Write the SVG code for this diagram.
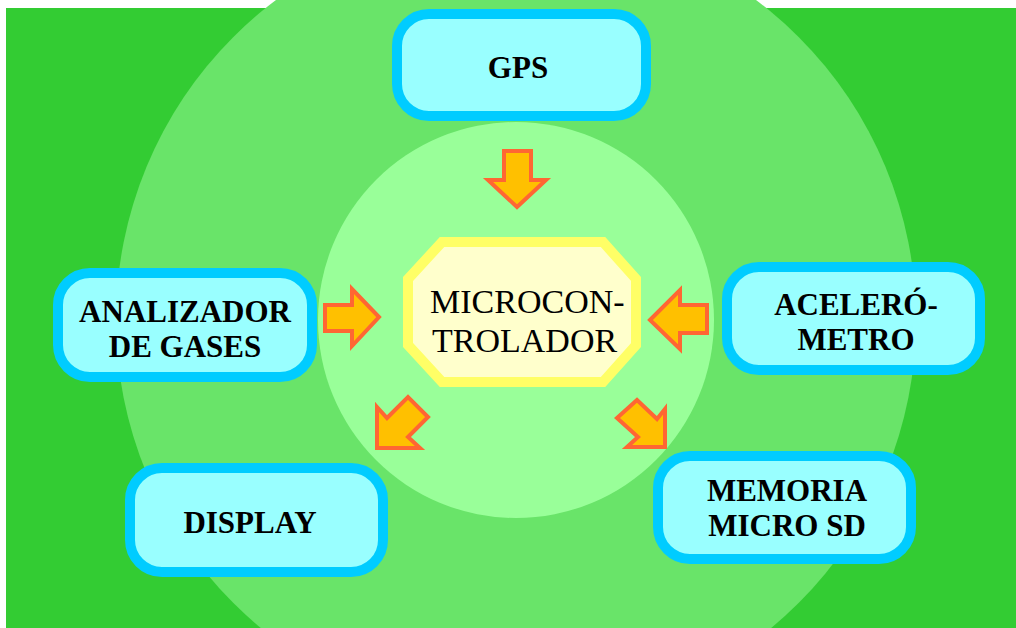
<svg xmlns="http://www.w3.org/2000/svg" width="1016" height="628" viewBox="0 0 1016 628">
<style>
.box{fill:#99FFFF;stroke:#00CCFF;stroke-width:10}
.lbl{font-family:"Liberation Serif","Times New Roman",serif;font-weight:bold;font-size:31px;fill:#000;text-anchor:middle}
.core{font-family:"Liberation Serif","Times New Roman",serif;font-size:34px;fill:#000}
.arr{fill:#FFC000;stroke:#FF6633;stroke-width:4;stroke-linejoin:miter}
</style>
<rect x="0" y="0" width="1016" height="628" fill="#FFFFFF"/>
<rect x="6" y="8" width="1010" height="620" fill="#33CC33"/>
<circle cx="516" cy="320" r="400" fill="#69E469"/>
<circle cx="516" cy="320" r="198" fill="#99FF99"/>

<g id="microcontrolador">
<polygon points="442,242 603,242 636,279 636,345 603,382 442,382 408,345 408,279" fill="#FFFFCC" stroke="#FFFF66" stroke-width="10"/>
<text class="core" x="430" y="313">MICROCON-</text>
<text class="core" x="432" y="352">TROLADOR</text>
</g>

<g id="gps">
<rect class="box" x="397" y="14" width="249" height="102" rx="32"/>
<text class="lbl" x="518" y="78">GPS</text>
</g>

<g id="analizador">
<rect class="box" x="58" y="273" width="254" height="104" rx="32"/>
<text class="lbl" x="185" y="322">ANALIZADOR</text>
<text class="lbl" x="185" y="357">DE GASES</text>
</g>

<g id="acelerometro">
<rect class="box" x="727" y="267" width="253" height="103" rx="32"/>
<text class="lbl" x="856" y="315">ACELERÓ-</text>
<text class="lbl" x="856" y="350">METRO</text>
</g>

<g id="display">
<rect class="box" x="130" y="468" width="253" height="104" rx="32"/>
<text class="lbl" x="250" y="533">DISPLAY</text>
</g>

<g id="memoria">
<rect class="box" x="658" y="456" width="253" height="103" rx="32"/>
<text class="lbl" x="787" y="501">MEMORIA</text>
<text class="lbl" x="787" y="536">MICRO SD</text>
</g>

<g id="connectors">
<polygon class="arr" points="504,151 531,151 531,180 546,180 517,207 488,180 504,180"/>
<polygon class="arr" points="325,305 352,305 352,289 379,317 352,346 352,331 325,331"/>
<polygon class="arr" points="650,320 680,290 680,305 707,305 707,333 680,333 680,349"/>
<polygon class="arr" points="377,407 387,418 408,397 428,417 408,437 420,448 377,448"/>
<polygon class="arr" points="617,418 637,400 657,419 665,409 665,447 627,447 638,437"/>
</g>
</svg>
